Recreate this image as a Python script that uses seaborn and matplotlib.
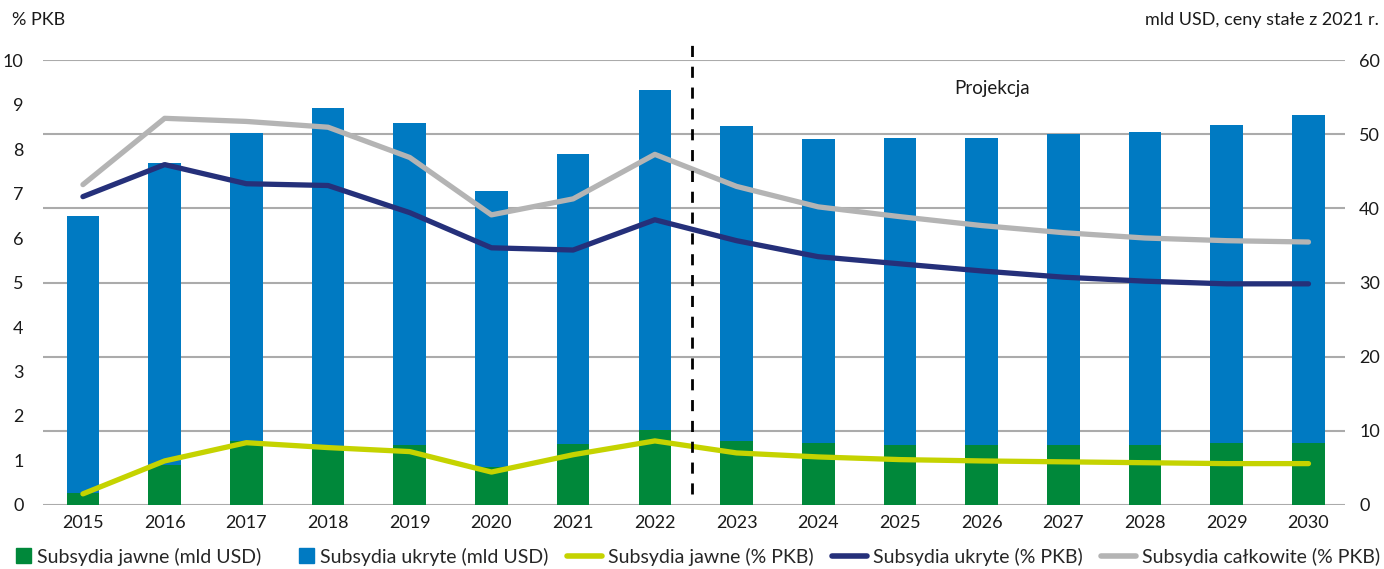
import numpy as np
import pandas as pd
import seaborn as sns
import matplotlib.pyplot as plt
from matplotlib.lines import Line2D
from matplotlib.patches import Patch, Rectangle
from matplotlib.legend_handler import HandlerPatch

# data
years = [str(y) for y in range(2015, 2031)]
jawne_usd = [1.6, 5.4, 8.6, 7.8, 8.1, 5.1, 8.2, 10.1, 8.6, 8.4, 8.1, 8.1, 8.1, 8.1, 8.4, 8.4]
razem_usd = [39.0, 46.1, 50.1, 53.5, 51.5, 42.3, 47.3, 55.9, 51.1, 49.3, 49.5, 49.5, 50.0, 50.3, 51.2, 52.6]
ukryte_usd = [t - j for t, j in zip(razem_usd, jawne_usd)]
jawne_pkb = [0.25, 0.99, 1.40, 1.29, 1.20, 0.74, 1.13, 1.44, 1.17, 1.08, 1.02, 0.99, 0.97, 0.95, 0.93, 0.93]
ukryte_pkb = [6.93, 7.65, 7.22, 7.18, 6.57, 5.78, 5.73, 6.41, 5.94, 5.58, 5.42, 5.26, 5.12, 5.03, 4.97, 4.97]
calkowite_pkb = [7.20, 8.69, 8.62, 8.49, 7.81, 6.52, 6.88, 7.88, 7.16, 6.70, 6.48, 6.28, 6.12, 6.00, 5.94, 5.91]

labels = ["Subsydia jawne (mld USD)", "Subsydia ukryte (mld USD)", "Subsydia jawne (% PKB)",
          "Subsydia ukryte (% PKB)", "Subsydia całkowite (% PKB)"]
colors = ["#00883A", "#007AC2", "#C5D300", "#25307A", "#B4B4B4"]
txt = "#1a1a1a"

sns.set_style("white")
plt.rcParams['font.family'] = ['Lato', 'DejaVu Sans']

df = pd.DataFrame({"rok": years, "razem": razem_usd, "jawne": jawne_usd,
                   "x": np.arange(len(years)), "jawne_pkb": jawne_pkb,
                   "ukryte_pkb": ukryte_pkb, "calkowite_pkb": calkowite_pkb})

fig = plt.figure(figsize=(13.84, 5.69), dpi=100)
ax = fig.add_axes([0.031, 0.1125, 0.941, 0.782])

# bars (right axis, mld USD): total in blue, explicit part in green on top of it
sns.barplot(data=df, x="rok", y="razem", color=colors[1], width=0.4, saturation=1,
            linewidth=0, ax=ax, zorder=2)
sns.barplot(data=df, x="rok", y="jawne", color=colors[0], width=0.4, saturation=1,
            linewidth=0, ax=ax, zorder=3)
ax.set_ylim(0, 60)
ax.set_yticks(range(0, 61, 10))
ax.grid(axis="y", color="#ABABAB", linewidth=1.5, zorder=0)
ax.set_axisbelow(True)
ax.set_xlim(-0.49, 15.45)
ax.set_xlabel("")
ax.set_ylabel("")
for s in ax.spines.values():
    s.set_visible(False)

# lines (left axis, % PKB)
ax2 = ax.twinx()
for col, c in zip(["jawne_pkb", "ukryte_pkb", "calkowite_pkb"], colors[2:]):
    sns.lineplot(data=df, x="x", y=col, color=c, linewidth=3.8, ax=ax2,
                 solid_capstyle="round", zorder=4)
ax2.set_ylim(0, 10)
ax2.set_yticks(range(0, 11))
ax2.set_ylabel("")
ax2.set_xlabel("")
for s in ax2.spines.values():
    s.set_visible(False)
ax2.set_xlim(-0.49, 15.45)

# twinx moves the ticks around, so set sides afterwards
ax.yaxis.tick_right()
ax2.yaxis.tick_left()
ax.tick_params(axis="both", length=0, labelsize=13, colors=txt)
ax.tick_params(axis="y", pad=10)
ax.tick_params(axis="x", pad=7)
ax2.tick_params(axis="y", length=0, labelsize=13, colors=txt, pad=14)

# projection divider
ax2.axvline(7.46, ymin=0.025, ymax=1.055, color="black", linestyle=(0, (4, 3.5)),
            linewidth=2, clip_on=False, zorder=5)
ax2.text(11.13, 9.37, "Projekcja", fontsize=13.5, ha="center", va="center", color=txt)

fig.text(0.009, 0.965, "% PKB", fontsize=13, ha="left", va="center", color=txt)
fig.text(0.996, 0.965, "mld USD, ceny stałe z 2021 r.", fontsize=13, ha="right", va="center",
         color=txt)


def square(legend, orig_handle, xdescent, ydescent, width, height, fontsize):
    s = height * 1.1
    return Rectangle((width - s, -ydescent + (height - s) / 2), s, s)


handles = [Patch(color=colors[0]), Patch(color=colors[1]),
           Line2D([], [], color=colors[2], linewidth=4, solid_capstyle="round"),
           Line2D([], [], color=colors[3], linewidth=4, solid_capstyle="round"),
           Line2D([], [], color=colors[4], linewidth=4, solid_capstyle="round")]
fig.legend(handles, labels, loc="center", bbox_to_anchor=(0.497, 0.022), ncol=5, frameon=False,
           fontsize=14, handlelength=1.8, handletextpad=0.3, columnspacing=0.95,
           borderpad=0.1, handler_map={Patch: HandlerPatch(patch_func=square)})

fig.savefig("out.png", dpi=100)
